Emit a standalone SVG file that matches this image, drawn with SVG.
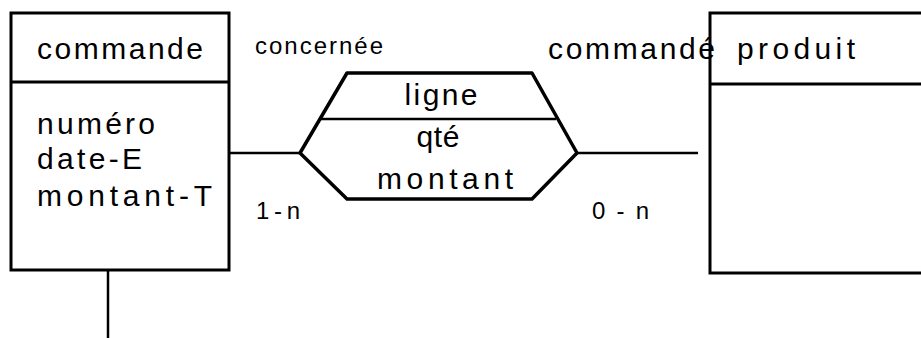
<svg xmlns="http://www.w3.org/2000/svg" width="921" height="338" viewBox="0 0 921 338">
<style>
.box{fill:none;stroke:#000;stroke-width:3}
.ln{fill:none;stroke:#000;stroke-width:2.5}
.hex{fill:none;stroke:#000;stroke-width:3.5;stroke-linejoin:round}
text{font-family:"Liberation Sans",Arial,sans-serif;fill:#000}
.t{font-size:30px}
.s{font-size:24px}
</style>
<rect width="921" height="338" fill="#fff"/>
<g id="connectors">
<line class="ln" x1="229" y1="153" x2="300" y2="153"/>
<line class="ln" x1="577" y1="153" x2="698" y2="153"/>
<line class="ln" x1="108" y1="270" x2="108" y2="338"/>
</g>
<g id="commande">
<rect class="box" x="11" y="13" width="218" height="257"/>
<line class="box" x1="11" y1="82" x2="229" y2="82"/>
<text class="t" x="37" y="59" textLength="166" lengthAdjust="spacing">commande</text>
<text class="t" x="37" y="134" textLength="118" lengthAdjust="spacing">numéro</text>
<text class="t" x="37" y="169" textLength="105" lengthAdjust="spacing">date-E</text>
<text class="t" x="37" y="206" textLength="175" lengthAdjust="spacing">montant-T</text>
</g>
<g id="ligne">
<polygon class="hex" points="300,153 347,73 532,73 577,153 532,199 347,199"/>
<line class="ln" x1="321" y1="119" x2="556" y2="119"/>
<text class="t" x="441" y="105" text-anchor="middle" textLength="73" lengthAdjust="spacing">ligne</text>
<text class="t" x="438" y="147" text-anchor="middle" textLength="43" lengthAdjust="spacing">qté</text>
<text class="t" x="445" y="189" text-anchor="middle" textLength="136" lengthAdjust="spacing">montant</text>
</g>
<g id="produit">
<rect class="box" x="710" y="13" width="220" height="260"/>
<line class="box" x1="710" y1="84" x2="921" y2="84"/>
<text class="t" x="737" y="59" textLength="118" lengthAdjust="spacing">produit</text>
</g>
<g id="labels">
<text class="s" x="255" y="54" textLength="128" lengthAdjust="spacing">concernée</text>
<text class="t" x="548" y="59" textLength="167" lengthAdjust="spacing">commandé</text>
<text class="s" x="256" y="219" textLength="44" lengthAdjust="spacing">1-n</text>
<text class="s" x="592" y="219" textLength="57" lengthAdjust="spacing">0-n</text>
</g>
</svg>
